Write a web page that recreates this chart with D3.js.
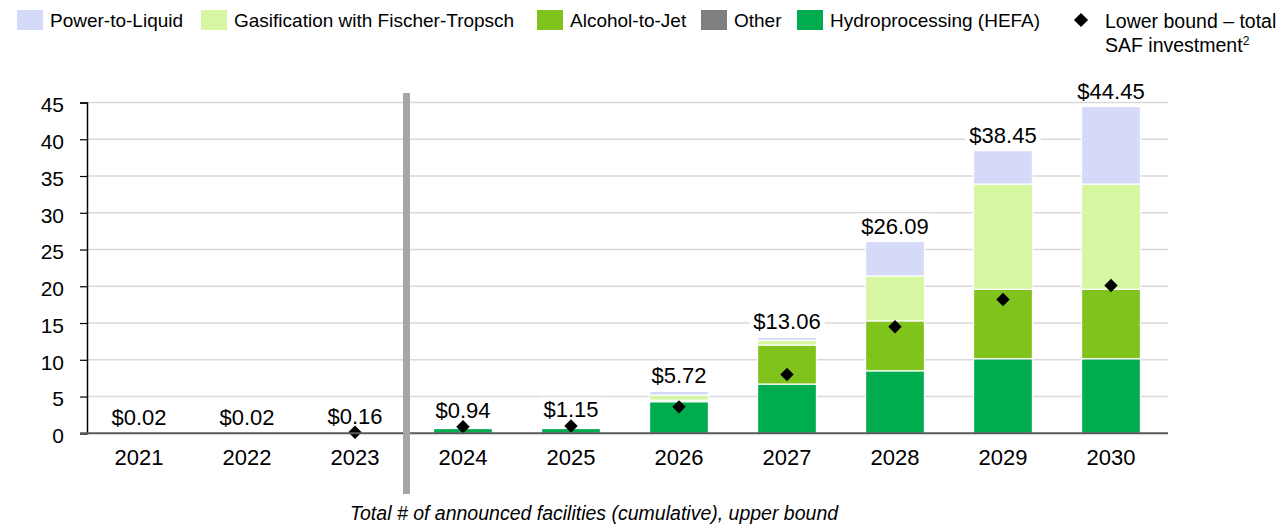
<!DOCTYPE html>
<html>
<head>
<meta charset="utf-8">
<script src="https://cdn.jsdelivr.net/npm/d3@7"></script>
<style>
  body { margin: 0; background: #fff; }
  svg text { font-family: "Liberation Sans", Arial, sans-serif; fill: #000; }
</style>
</head>
<body>
<div id="app"></div>
<script>
// Chart data (USD bn, cumulative)
const years = ["2021", "2022", "2023", "2024", "2025", "2026", "2027", "2028", "2029", "2030"];
const hefa = [0.02, 0.02, 0.16, 0.65, 0.65, 4.3, 6.7, 8.5, 10.15, 10.15];
const other = [0, 0, 0, 0, 0, 0, 0, 0, 0, 0];
const alcoholToJet = [0, 0, 0, 0, 0, 0.2, 5.3, 6.8, 9.45, 9.45];
const fischerTropsch = [0, 0, 0, 0, 0, 0.7, 0.65, 6.1, 14.3, 14.3];
const powerToLiquid = [0, 0, 0, 0, 0, 0.52, 0.41, 4.69, 4.55, 10.55];
const totals = [0.02, 0.02, 0.16, 0.94, 1.15, 5.72, 13.06, 26.09, 38.45, 44.45];
const totalLabels = ["$0.02", "$0.02", "$0.16", "$0.94", "$1.15", "$5.72", "$13.06", "$26.09", "$38.45", "$44.45"];
const lowerBound = [null, null, 0.15, 0.9, 1.0, 3.6, 8.0, 14.5, 18.2, 20.1];
const yTicks = [0, 5, 10, 15, 20, 25, 30, 35, 40, 45];

const seriesKeys = ["HEFA", "Other", "AtJ", "FT", "PtL"];
const seriesNames = {
  PtL: "Power-to-Liquid",
  FT: "Gasification with Fischer-Tropsch",
  AtJ: "Alcohol-to-Jet",
  Other: "Other",
  HEFA: "Hydroprocessing (HEFA)"
};
const colors = {
  PtL: "#d4daf7",
  FT: "#d7f6a1",
  AtJ: "#7fc31c",
  Other: "#7f7f7f",
  HEFA: "#00ad4e"
};

const width = 1286;
const height = 527;

const table = years.map((y, i) => ({
  year: y,
  HEFA: hefa[i],
  Other: other[i],
  AtJ: alcoholToJet[i],
  FT: fischerTropsch[i],
  PtL: powerToLiquid[i]
}));

const svg = d3
  .select("#app")
  .append("svg")
  .attr("width", width)
  .attr("height", height);

// Scales
const xScale = d3
  .scaleBand()
  .domain(years)
  .range([85, 1165])
  .paddingInner(0.455)
  .paddingOuter(0.2275);

const yScale = d3.scaleLinear().domain([0, 45]).range([433.3, 102.5]);

// Gridlines
svg
  .append("g")
  .selectAll("line")
  .data(yTicks.filter((d) => d > 0))
  .enter()
  .append("line")
  .attr("x1", 87)
  .attr("x2", 1168)
  .attr("y1", (d) => yScale(d))
  .attr("y2", (d) => yScale(d))
  .attr("stroke", "#d9d9d9")
  .attr("stroke-width", 1.5);

// Stacked bars
const stacked = d3.stack().keys(seriesKeys)(table);

svg
  .append("g")
  .selectAll("g")
  .data(stacked)
  .enter()
  .append("g")
  .attr("fill", (d) => colors[d.key])
  .selectAll("rect")
  .data((d) => d.filter((p) => p[1] - p[0] > 0))
  .enter()
  .append("rect")
  .attr("x", (d) => xScale(d.data.year))
  .attr("width", xScale.bandwidth())
  .attr("y", (d) => yScale(d[1]))
  .attr("height", (d) => yScale(d[0]) - yScale(d[1]))
  .attr("stroke", "#fff")
  .attr("stroke-width", 1.2);

// Total labels with white background
const labels = svg.append("g");
years.forEach((y, i) => {
  const g = labels.append("g");
  const t = g
    .append("text")
    .attr("x", xScale(y) + xScale.bandwidth() / 2)
    .attr("y", yScale(totals[i]) - 8)
    .attr("text-anchor", "middle")
    .style("font-size", "22px")
    .text(totalLabels[i]);
  const bb = t.node().getBBox();
  g.insert("rect", "text")
    .attr("x", bb.x - 4)
    .attr("y", bb.y)
    .attr("width", bb.width + 8)
    .attr("height", bb.height - 3)
    .attr("fill", "#fff");
});

// Lower bound diamonds
svg
  .append("g")
  .selectAll("path")
  .data(years.map((y, i) => ({ year: y, v: lowerBound[i] })).filter((d) => d.v !== null))
  .enter()
  .append("path")
  .attr("d", d3.symbol().type(d3.symbolSquare).size(90))
  .attr("transform", (d) =>
    `translate(${xScale(d.year) + xScale.bandwidth() / 2},${yScale(d.v)}) rotate(45)`)
  .attr("fill", "#000");

// Axes
const yAxis = d3.axisLeft(yScale).tickValues(yTicks).tickSize(7).tickPadding(16);
const yG = svg.append("g").attr("transform", "translate(87,0)").call(yAxis);
yG.select(".domain").attr("stroke", "#000").attr("stroke-width", 1.5);
yG.selectAll(".tick line").attr("stroke", "#000").attr("stroke-width", 1.2);
yG.selectAll(".tick text")
  .style("font-size", "21px")
  .attr("dy", "0.45em");

svg
  .append("line")
  .attr("x1", 80)
  .attr("x2", 1168)
  .attr("y1", yScale(0))
  .attr("y2", yScale(0))
  .attr("stroke", "#595959")
  .attr("stroke-width", 2);

const xAxis = d3.axisBottom(xScale).tickSize(0).tickPadding(0);
const xG = svg.append("g").attr("transform", `translate(0,${yScale(0)})`).call(xAxis);
xG.select(".domain").remove();
xG.selectAll(".tick text")
  .style("font-size", "22px")
  .attr("y", 31.5)
  .attr("dy", 0);

// Divider between historic and announced
svg
  .append("line")
  .attr("x1", 406.5)
  .attr("x2", 406.5)
  .attr("y1", 93)
  .attr("y2", 494)
  .attr("stroke", "#a6a6a6")
  .attr("stroke-width", 7);

// Caption
svg
  .append("text")
  .attr("x", 594)
  .attr("y", 520)
  .attr("text-anchor", "middle")
  .style("font-size", "19.5px")
  .style("font-style", "italic")
  .text("Total # of announced facilities (cumulative), upper bound");

// Legend
const legendOrder = ["PtL", "FT", "AtJ", "Other", "HEFA"];
const legendX = [17, 201, 537, 701, 797];
const legend = svg.append("g");
legend
  .selectAll("rect")
  .data(legendOrder)
  .enter()
  .append("rect")
  .attr("x", (d, i) => legendX[i])
  .attr("y", 10)
  .attr("width", 26)
  .attr("height", 20)
  .attr("fill", (d) => colors[d]);
legend
  .selectAll("text")
  .data(legendOrder)
  .enter()
  .append("text")
  .attr("x", (d, i) => legendX[i] + 33)
  .attr("y", 27)
  .style("font-size", "19px")
  .text((d) => seriesNames[d]);

legend
  .append("path")
  .attr("d", d3.symbol().type(d3.symbolSquare).size(100))
  .attr("transform", "translate(1081,20) rotate(45)")
  .attr("fill", "#000");
legend
  .append("text")
  .attr("x", 1105)
  .attr("y", 28)
  .style("font-size", "19.5px")
  .text("Lower bound – total");
const saf = legend
  .append("text")
  .attr("x", 1105)
  .attr("y", 52)
  .style("font-size", "19.5px")
  .text("SAF investment");
saf.append("tspan").attr("dy", -7).style("font-size", "12px").text("2");
</script>
</body>
</html>
